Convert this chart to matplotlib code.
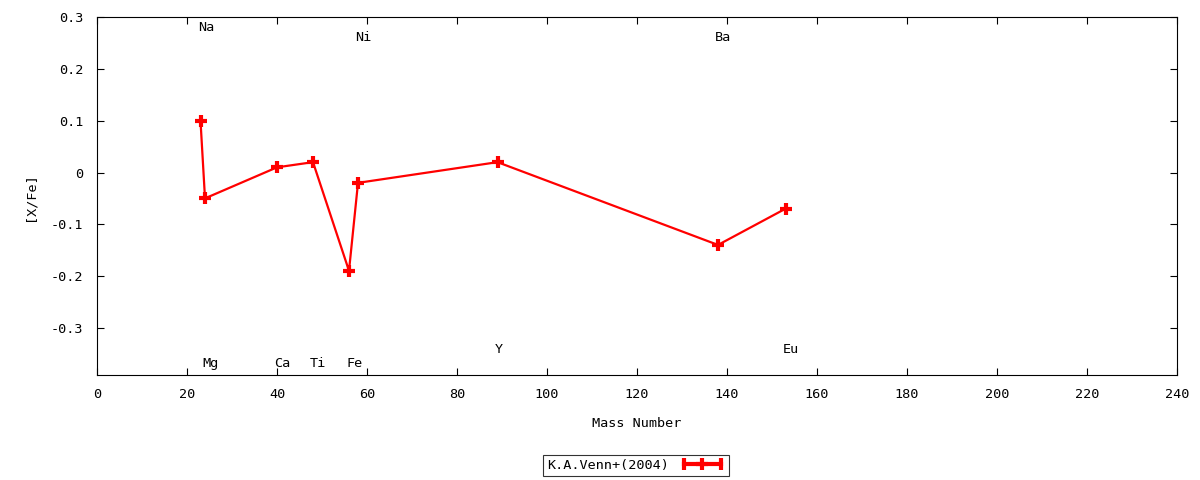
import matplotlib
matplotlib.use("Agg")
import matplotlib.pyplot as plt
from matplotlib.lines import Line2D
from matplotlib.legend_handler import HandlerLine2D, HandlerTuple

# Data
elements = ["Na", "Mg", "Ca", "Ti", "Fe", "Ni", "Y", "Ba", "Eu"]
mass = [23, 24, 40, 48, 56, 58, 89, 138, 153]
xfe = [0.10, -0.05, 0.01, 0.02, -0.19, -0.02, 0.02, -0.14, -0.07]
label_y = [0.28, -0.37, -0.37, -0.37, -0.37, 0.26, -0.343, 0.26, -0.343]
series_name = "K.A.Venn+(2004)"
xticks = list(range(0, 241, 20))
yticks = [-0.3, -0.2, -0.1, 0, 0.1, 0.2, 0.3]
ytick_labels = ["-0.3", "-0.2", "-0.1", "0", "0.1", "0.2", "0.3"]

plt.rcParams["font.family"] = ["DejaVu Sans Mono"]
plt.rcParams["font.size"] = 9.7

fig = plt.figure(figsize=(12, 4.8), dpi=100)
ax = fig.add_axes([97 / 1200, 1 - 375.3 / 480, 1080 / 1200, 358 / 480])

red = "#ff0000"
ax.plot(mass, xfe, color=red, lw=1.6, marker="+", markersize=8.5,
        markeredgewidth=3, zorder=3)

for el, x, y in zip(elements, mass, label_y):
    ax.annotate(el, (x, y), xytext=(-2, 0), textcoords="offset points",
                ha="left", va="center", color="black")

ax.set_xlim(0, 240)
ax.set_ylim(-0.392, 0.3)
ax.set_xticks(xticks)
ax.set_xticklabels([str(t) for t in xticks])
ax.set_yticks(yticks)
ax.set_yticklabels(ytick_labels)
ax.tick_params(direction="in", length=5, width=0.8, top=True, right=True,
               colors="black")
ax.tick_params(axis="x", pad=9)
ax.tick_params(axis="y", pad=10)
for s in ax.spines.values():
    s.set_linewidth(0.8)
    s.set_color("black")

ax.set_xlabel("Mass Number", labelpad=12)
ax.set_ylabel("[X/Fe]", labelpad=10)

h_ends = Line2D([0], [0], color=red, lw=3, marker="|", markersize=8,
                markeredgewidth=3)
h_center = Line2D([0], [0], color=red, lw=0, marker="+", markersize=8.5,
                  markeredgewidth=3)
leg = fig.legend([(h_ends, h_center)], [series_name], loc="center",
                 bbox_to_anchor=(0.53, 0.031), markerfirst=False,
                 handlelength=3.3, fancybox=False, frameon=True,
                 borderpad=0.3, handletextpad=0.8, borderaxespad=0,
                 handler_map={h_ends: HandlerLine2D(numpoints=2),
                              h_center: HandlerLine2D(numpoints=1),
                              tuple: HandlerTuple(ndivide=1, pad=0)})
leg.get_frame().set_edgecolor("black")
leg.get_frame().set_linewidth(0.8)

fig.savefig("out.png", dpi=100)
